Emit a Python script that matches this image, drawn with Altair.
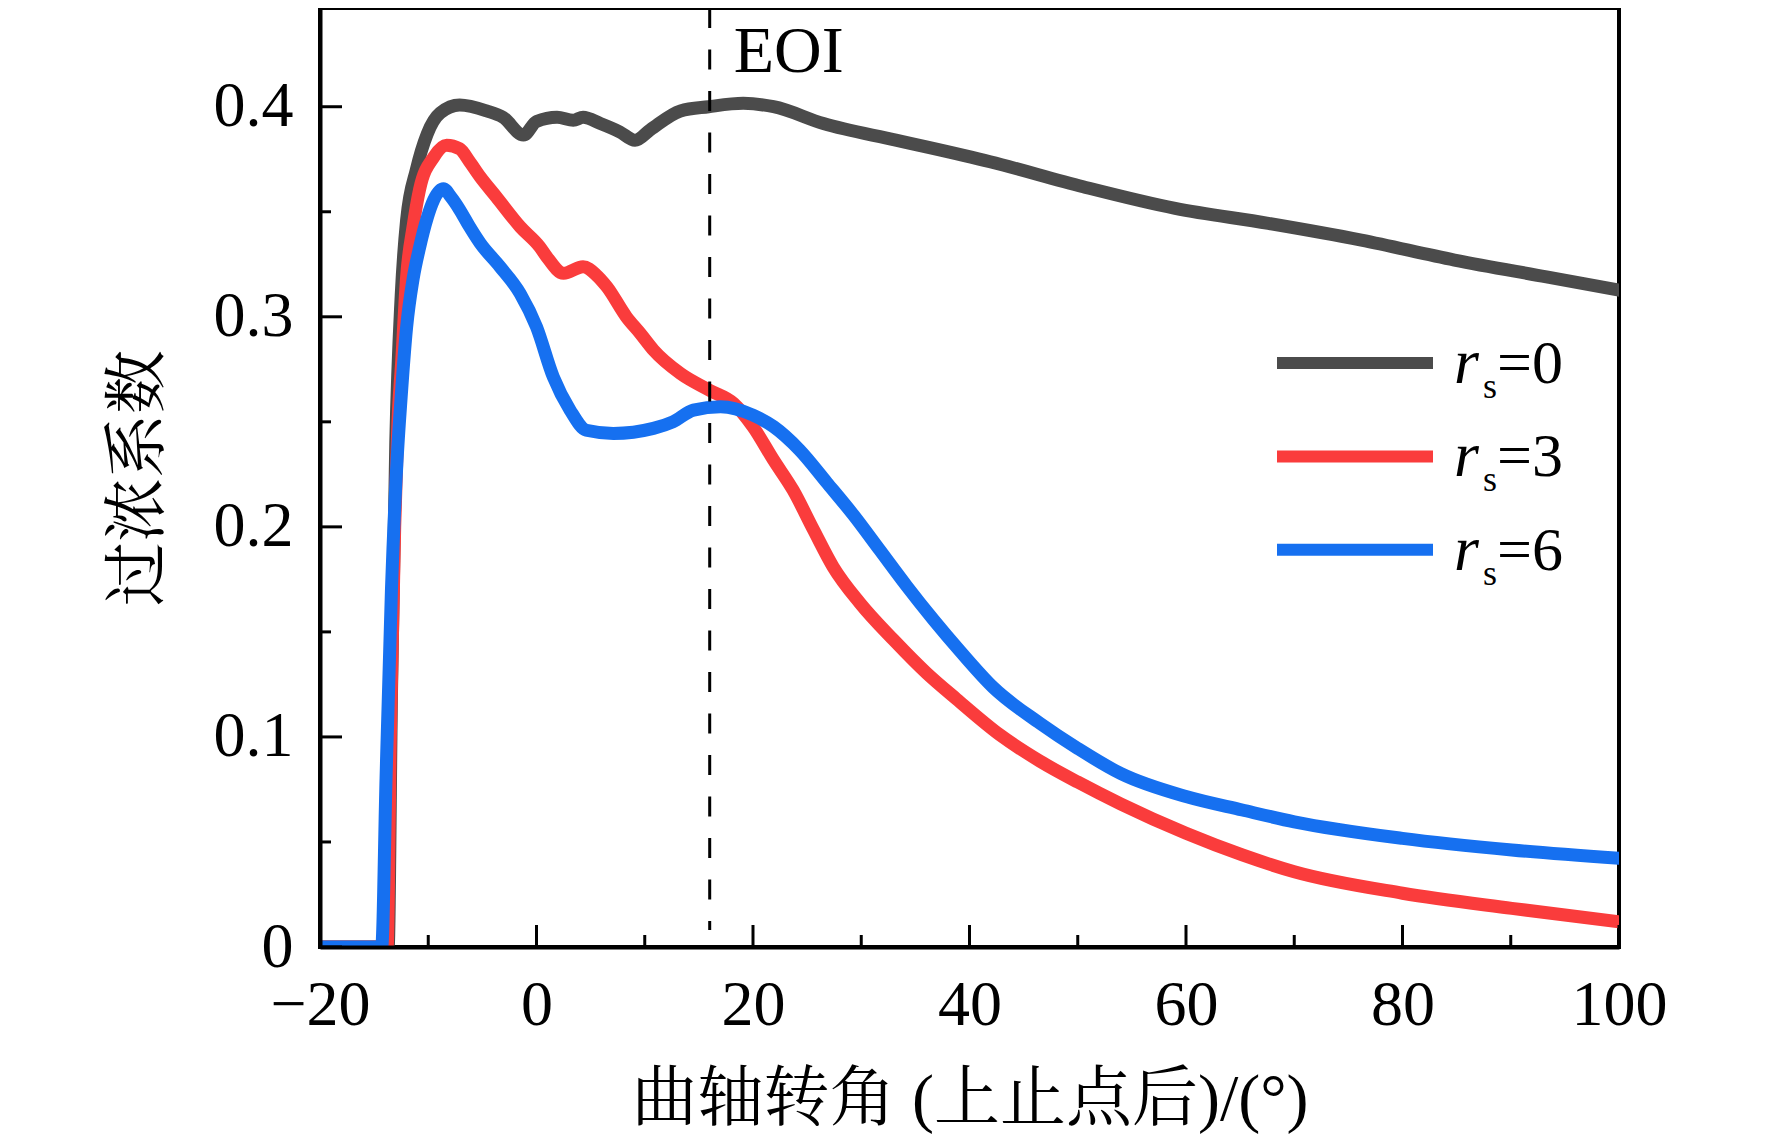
import altair as alt
import pandas as pd

# ---------------- data ----------------
series_names = ["rs=0", "rs=3", "rs=6"]
series_subs = ["0", "3", "6"]
series_colors = ["#4b4b4b", "#fa3c3c", "#1670f0"]

x_rs0 = [-20, -13.7, -13.4, -13.0, -12.5, -12.0, -11.1, -10.1, -8.9, -7.1, -4.6, -3.1, -1.2,
         0.0, 1.9, 3.4, 4.3, 5.9, 7.7, 9.1, 10.5, 13.3, 15.9, 19.1, 21.9, 26.5, 33.3, 41.9,
         50.5, 59.0, 67.6, 76.2, 84.8, 93.3, 100]
y_rs0 = [0, 0, 0.12, 0.24, 0.31, 0.346, 0.370, 0.387, 0.397, 0.4008, 0.398, 0.395, 0.3865,
         0.393, 0.395, 0.3936, 0.395, 0.392, 0.388, 0.384, 0.389, 0.398, 0.400, 0.4016, 0.400,
         0.392, 0.384, 0.3738, 0.3619, 0.3516, 0.3445, 0.3365, 0.327, 0.319, 0.3127]

x_rs3 = [-20, -13.8, -13.5, -13.1, -12.8, -12.45, -12.0, -11.4, -10.8, -9.5, -8.3, -7.1, -6.2,
         -5.2, -3.7, -1.5, 0.3, 0.94, 2.5, 4.3, 5.5, 6.5, 8.3, 9.6, 10.8, 13.3, 16.0, 18.2,
         20.0, 21.9, 23.7, 25.6, 27.4, 29.9, 33.0, 36.05, 38.8, 42.8, 46.5, 50.0, 54.0, 60.0,
         65.2, 70.0, 80.0, 90.1, 100]
y_rs3 = [0, 0, 0.10, 0.20, 0.25, 0.279, 0.319, 0.343, 0.3607, 0.376, 0.3817, 0.380, 0.374,
         0.3666, 0.357, 0.3428, 0.3333, 0.3286, 0.3207, 0.3238, 0.320, 0.3143, 0.300, 0.292,
         0.2842, 0.273, 0.265, 0.2588, 0.2477, 0.2318, 0.2175, 0.1985, 0.181, 0.1636, 0.1461,
         0.1303, 0.1180, 0.1010, 0.0885, 0.0785, 0.0680, 0.0541, 0.0438, 0.0358, 0.0256,
         0.0184, 0.012]

x_rs6 = [-20, -14.3, -13.9, -13.4, -12.9, -12.5, -12.0, -11.4, -10.8, -10.1, -9.5, -8.6, -7.9,
         -7.1, -6.2, -5.2, -3.4, -1.5, 0.0, 1.55, 3.1, 4.6, 7.1, 10.8, 12.6, 14.5, 17.0, 20.0,
         21.9, 24.3, 26.8, 29.3, 31.7, 34.2, 36.7, 39.1, 42.2, 46.5, 50.0, 54.0, 60.0, 65.2,
         70.0, 80.0, 90.1, 100]
y_rs6 = [0, 0, 0.08, 0.17, 0.23, 0.262, 0.295, 0.318, 0.333, 0.347, 0.3556, 0.361, 0.357,
         0.351, 0.343, 0.335, 0.324, 0.311, 0.2952, 0.2714, 0.2556, 0.246, 0.2445, 0.2469,
         0.25, 0.2556, 0.2572, 0.2532, 0.2477, 0.2366, 0.2212, 0.2055, 0.189, 0.1718, 0.1556,
         0.1410, 0.1235, 0.1065, 0.0945, 0.0825, 0.0716, 0.0652, 0.0596, 0.0517, 0.0462, 0.0422]

eoi_angle = [16]
eoi_label = ["EOI"]

x_major_ticks = [-20, 0, 20, 40, 60, 80, 100]
x_minor_ticks = [-10, 10, 30, 50, 70, 90]
y_major_ticks = [0, 0.1, 0.2, 0.3, 0.4]
y_minor_ticks = [0.05, 0.15, 0.25, 0.35]

x_title = "曲轴转角 (上止点后)/(°)"
y_title = "过浓系数"

# ---------------- layout ----------------
W, H = 1299, 939
SERIF = "Liberation Serif"
CJK = "Liberation Serif, Noto Serif CJK SC, Noto Sans CJK SC"

xscale = alt.Scale(domain=[-20, 100], nice=False, zero=False)
yscale = alt.Scale(domain=[0, 0.447], nice=False, zero=True)

x_axis = alt.Axis(
    values=x_major_ticks, format="d", labelFont=SERIF, labelFontSize=64,
    labelColor="black", labelPadding=26, labelFlush=False, labelOverlap=False,
    labelBound=False, ticks=False, tickSize=0, grid=False, domain=True,
    domainColor="black", domainWidth=4, zindex=1,
    title=x_title, titleFont=CJK, titleFontSize=66, titleFontWeight="normal",
    titleColor="black", titleX=W / 2, titleY=152, titleAlign="center",
    titleBaseline="middle")
y_axis = alt.Axis(
    values=y_major_ticks,
    labelExpr="datum.value == 0 ? '0' : format(datum.value, '.1f')",
    labelFont=SERIF, labelFontSize=64, labelColor="black", labelPadding=27,
    labelFlush=False, labelOverlap=False, labelBound=False, labelBaseline="middle",
    ticks=False, tickSize=0, grid=False, domain=True, domainColor="black",
    domainWidth=4, zindex=1,
    title=y_title, titleFont=CJK, titleFontSize=64, titleFontWeight="normal",
    titleColor="black", titleAngle=270, titleX=-182, titleY=H / 2,
    titleAlign="center", titleBaseline="middle")


def X(field):
    return alt.X(field, scale=xscale, axis=x_axis)


def Y(field):
    return alt.Y(field, scale=yscale, axis=y_axis)


xs = [x_rs0, x_rs3, x_rs6]
ys = [y_rs0, y_rs3, y_rs6]

layers = []
for i, name in enumerate(series_names):
    df = pd.DataFrame({"angle": xs[i], "value": ys[i], "series": name})
    layers.append(
        alt.Chart(df).mark_line(strokeWidth=13, interpolate="monotone", strokeCap="round",
                                strokeJoin="round", clip=True,
                                color=series_colors[i]).encode(x=X("angle:Q"), y=Y("value:Q"))
    )

# EOI dashed line and label
eoi_df = pd.DataFrame({"angle": eoi_angle, "label": eoi_label})
eoi_rule = alt.Chart(eoi_df).mark_rule(color="black", strokeWidth=3, strokeDash=[20, 21.5]).encode(
    x=X("angle:Q"), y=alt.value(0), y2=alt.value(922))
eoi_text = alt.Chart(eoi_df).mark_text(font=SERIF, fontSize=66, align="left",
                                       baseline="alphabetic", dx=24, color="black").encode(
    x=X("angle:Q"), y=alt.value(64), text="label:N")

# inward ticks
xt_major = alt.Chart(pd.DataFrame({"angle": x_major_ticks})).mark_rule(color="black", strokeWidth=3).encode(
    x=X("angle:Q"), y=alt.value(H), y2=alt.value(H - 22))
xt_minor = alt.Chart(pd.DataFrame({"angle": x_minor_ticks})).mark_rule(color="black", strokeWidth=3).encode(
    x=X("angle:Q"), y=alt.value(H), y2=alt.value(H - 12))
yt_major = alt.Chart(pd.DataFrame({"value": y_major_ticks})).mark_rule(color="black", strokeWidth=3).encode(
    y=Y("value:Q"), x=alt.value(0), x2=alt.value(22))
yt_minor = alt.Chart(pd.DataFrame({"value": y_minor_ticks})).mark_rule(color="black", strokeWidth=3).encode(
    y=Y("value:Q"), x=alt.value(0), x2=alt.value(11))

# manual legend
legend_layers = []
for i in range(len(series_names)):
    ly = 355 + i * 93.4
    one = pd.DataFrame({"r": ["r"], "s": ["s"], "eq": ["=" + series_subs[i]]})
    legend_layers.append(alt.Chart(one).mark_rule(strokeWidth=12, color=series_colors[i]).encode(
        x=alt.value(957), x2=alt.value(1113), y=alt.value(ly)))
    legend_layers.append(alt.Chart(one).mark_text(font=SERIF, fontSize=64, fontStyle="italic",
                                                  align="left", baseline="alphabetic",
                                                  color="black").encode(
        x=alt.value(1134), y=alt.value(ly + 20), text="r:N"))
    legend_layers.append(alt.Chart(one).mark_text(font=SERIF, fontSize=36, align="left",
                                                  baseline="alphabetic", color="black").encode(
        x=alt.value(1163), y=alt.value(ly + 35), text="s:N"))
    legend_layers.append(alt.Chart(one).mark_text(font=SERIF, fontSize=62, align="left",
                                                  baseline="alphabetic", color="black").encode(
        x=alt.value(1177), y=alt.value(ly + 20), text="eq:N"))

chart = alt.layer(
    *layers, eoi_rule, eoi_text, xt_major, xt_minor, yt_major, yt_minor, *legend_layers
).properties(
    width=W, height=H,
    autosize=alt.AutoSizeParams(type="none"),
    padding={"left": 312, "top": 0, "right": 145, "bottom": 187},
    background="white",
).configure_view(stroke="black", strokeWidth=4)

chart.save("out.html", embed_options={"renderer": "svg", "actions": False})
